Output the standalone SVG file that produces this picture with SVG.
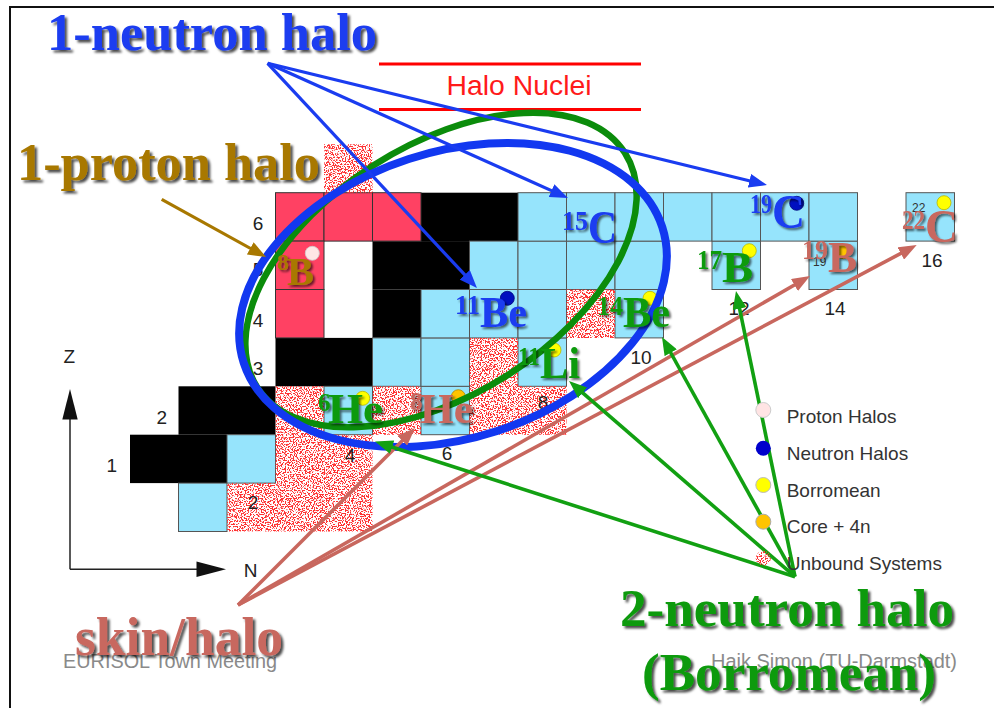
<svg xmlns="http://www.w3.org/2000/svg" width="994" height="708" viewBox="0 0 994 708">
<defs>
<style>
.lb{fill:#96E4FC;stroke:#555;stroke-width:1}
.rd{fill:#FF4163;stroke:#333;stroke-width:1}
.bk{fill:#000}
.num{font-family:"Liberation Sans",Arial,sans-serif;font-size:19px;fill:#222;text-anchor:middle}
.leg{font-family:"Liberation Sans",Arial,sans-serif;font-size:19px;fill:#333}
.big{font-family:"Liberation Serif","Times New Roman",serif;font-weight:bold;filter:url(#sh)}
.nuc{font-family:"Liberation Serif","Times New Roman",serif;font-weight:bold;filter:url(#sh2)}
.foot{font-family:"Liberation Sans",Arial,sans-serif;font-size:20px;fill:#8a8a8a}
.small{font-family:"Liberation Sans",Arial,sans-serif;font-size:12px;fill:#333}
.blue{fill:#1A3CF0}.green{fill:#0A9A0A}.salmon{fill:#C8675E}.gold{fill:#A87800}
</style>
<filter id="sh" x="-5%" y="-20%" width="115%" height="150%">
<feDropShadow dx="2.5" dy="2.5" stdDeviation="1.2" flood-color="#000" flood-opacity="0.7"/>
</filter>
<filter id="sh2" x="-10%" y="-20%" width="130%" height="150%">
<feDropShadow dx="2" dy="2" stdDeviation="1" flood-color="#000" flood-opacity="0.6"/>
</filter>
<filter id="speckle" filterUnits="userSpaceOnUse" x="0" y="0" width="994" height="708">
<feTurbulence type="fractalNoise" baseFrequency="0.75" numOctaves="2" seed="7" result="n"/>
<feColorMatrix in="n" type="matrix" values="0 0 0 0 1  0 0 0 0 0.03  0 0 0 0 0.03  14 0 0 0 -6.9" result="r"/>
<feComposite in="r" in2="SourceGraphic" operator="in"/>
</filter>
<marker id="ah-blue" viewBox="0 0 18 14" refX="6" refY="7" markerWidth="18" markerHeight="14" markerUnits="userSpaceOnUse" orient="auto"><path d="M0,0 L18,7 L0,14 z" fill="#1A3CF0"/></marker>
<marker id="ah-gold" viewBox="0 0 18 14" refX="6" refY="7" markerWidth="18" markerHeight="14" markerUnits="userSpaceOnUse" orient="auto"><path d="M0,0 L18,7 L0,14 z" fill="#A87800"/></marker>
<marker id="ah-salmon" viewBox="0 0 18 14" refX="6" refY="7" markerWidth="18" markerHeight="14" markerUnits="userSpaceOnUse" orient="auto"><path d="M0,0 L18,7 L0,14 z" fill="#C8675E"/></marker>
<marker id="ah-green" viewBox="0 0 18 14" refX="6" refY="7" markerWidth="18" markerHeight="14" markerUnits="userSpaceOnUse" orient="auto"><path d="M0,0 L18,7 L0,14 z" fill="#12A012"/></marker>
</defs>

<rect x="0" y="0" width="994" height="708" fill="#fff"/>
<rect id="frame" x="10" y="7" width="1000" height="720" fill="none" stroke="#111" stroke-width="2"/>

<g id="title">
<line x1="379" y1="64" x2="641" y2="64" stroke="#FF0000" stroke-width="3"/>
<line x1="379" y1="109.5" x2="641" y2="109.5" stroke="#FF0000" stroke-width="3"/>
<text x="519" y="95" text-anchor="middle" font-family="Liberation Sans, Arial, sans-serif" font-size="27" fill="#FF1A1A" textLength="145" lengthAdjust="spacingAndGlyphs">Halo Nuclei</text>
</g>

<g id="axes" stroke="#222" stroke-width="1.5" fill="#111">
<line x1="70" y1="569.3" x2="70" y2="410"/>
<line x1="70" y1="569.3" x2="205" y2="569.3"/>
<path d="M70,389 L77.7,419.5 L62.3,419.5 z" stroke="none"/>
<path d="M226,569.3 L196.5,561.6 L196.5,577 z" stroke="none"/>
<text class="num" x="69.3" y="363" stroke="none" font-size="18">Z</text>
<text class="num" x="250.7" y="577" stroke="none" font-size="18">N</text>
</g>

<g id="chart">
<g id="stable">
<rect class="bk" x="130" y="434.7" width="97" height="48.4"/>
<rect class="bk" x="178.5" y="386.3" width="97" height="48.4"/>
<rect class="bk" x="275.5" y="337.9" width="97" height="48.4"/>
<rect class="bk" x="372.5" y="289.5" width="48.5" height="48.4"/>
<rect class="bk" x="372.5" y="241.1" width="97" height="48.4"/>
<rect class="bk" x="421" y="192.7" width="97" height="48.4"/>
</g>
<g id="proton-rich">
<rect class="rd" x="275.5" y="192.7" width="48.5" height="48.4"/>
<rect class="rd" x="324" y="192.7" width="48.5" height="48.4"/>
<rect class="rd" x="372.5" y="192.7" width="48.5" height="48.4"/>
<rect class="rd" x="275.5" y="241.1" width="48.5" height="48.4"/>
<rect class="rd" x="275.5" y="289.5" width="48.5" height="48.4"/>
</g>
<g id="neutron-rich">
<rect class="lb" x="178.5" y="483.1" width="48.5" height="48.4"/>
<rect class="lb" x="227" y="434.7" width="48.5" height="48.4"/>
<rect class="lb" x="324" y="386.3" width="48.5" height="48.4"/>
<rect class="lb" x="421" y="386.3" width="48.5" height="48.4"/>
<rect class="lb" x="372.5" y="337.9" width="48.5" height="48.4"/>
<rect class="lb" x="421" y="337.9" width="48.5" height="48.4"/>
<rect class="lb" x="518" y="337.9" width="48.5" height="48.4"/>
<rect class="lb" x="421" y="289.5" width="48.5" height="48.4"/>
<rect class="lb" x="469.5" y="289.5" width="48.5" height="48.4"/>
<rect class="lb" x="518" y="289.5" width="48.5" height="48.4"/>
<rect class="lb" x="615" y="289.5" width="48.5" height="48.4"/>
<rect class="lb" x="469.5" y="241.1" width="48.5" height="48.4"/>
<rect class="lb" x="518" y="241.1" width="48.5" height="48.4"/>
<rect class="lb" x="566.5" y="241.1" width="48.5" height="48.4"/>
<rect class="lb" x="615" y="241.1" width="48.5" height="48.4"/>
<rect class="lb" x="712" y="241.1" width="48.5" height="48.4"/>
<rect class="lb" x="809" y="241.1" width="48.5" height="48.4"/>
<rect class="lb" x="518" y="192.7" width="48.5" height="48.4"/>
<rect class="lb" x="566.5" y="192.7" width="48.5" height="48.4"/>
<rect class="lb" x="615" y="192.7" width="48.5" height="48.4"/>
<rect class="lb" x="663.5" y="192.7" width="48.5" height="48.4"/>
<rect class="lb" x="712" y="192.7" width="48.5" height="48.4"/>
<rect class="lb" x="760.5" y="192.7" width="48.5" height="48.4"/>
<rect class="lb" x="809" y="192.7" width="48.5" height="48.4"/>
<rect class="lb" x="906" y="192.7" width="48.5" height="48.4"/>
</g>
<g id="unbound">
<path fill="#fff" filter="url(#speckle)" d="M324,144.3h48.5v48.4h-48.5z M566.5,289.5h48.5v48.4h-48.5z M469.5,337.9h48.5v48.4h-48.5z M275.5,386.3h48.5v48.4h-48.5z M372.5,386.3h48.5v48.4h-48.5z M469.5,386.3h97v48.4h-97z M275.5,434.7h97v48.4h-97z M227,483.1h145.5v48.4h-145.5z"/>
</g>
<g id="axis-numbers">
<text class="num" x="258" y="230">6</text>
<text class="num" x="258" y="276">5</text>
<text class="num" x="258" y="327">4</text>
<text class="num" x="258" y="375">3</text>
<text class="num" x="161.7" y="424">2</text>
<text class="num" x="111.7" y="472">1</text>
<text class="num" x="253" y="509">2</text>
<text class="num" x="350" y="462">4</text>
<text class="num" x="447" y="460">6</text>
<text class="num" x="543" y="409">8</text>
<text class="num" x="641" y="363.5">10</text>
<text class="num" x="739" y="315">12</text>
<text class="num" x="835" y="315">14</text>
<text class="num" x="932" y="267">16</text>
<text class="small" x="912" y="212">22</text>
<text class="small" x="813" y="266">19</text>
</g>
<g id="dots" stroke-width="0.8">
<circle cx="312.3" cy="253.3" r="7" fill="#FFE6E6" stroke="#ccc"/>
<circle cx="507.3" cy="298.3" r="7" fill="#0010C0" stroke="#00087a"/>
<circle cx="796.7" cy="203.3" r="7" fill="#0010C0" stroke="#00087a"/>
<circle cx="650" cy="298.3" r="7" fill="#FFFF00" stroke="#b8b800"/>
<circle cx="554" cy="350" r="7" fill="#FFFF00" stroke="#b8b800"/>
<circle cx="362.7" cy="398.3" r="7" fill="#FFFF00" stroke="#b8b800"/>
<circle cx="458.3" cy="396.7" r="7" fill="#FFC400" stroke="#b08800"/>
<circle cx="749.3" cy="250.7" r="7" fill="#FFFF00" stroke="#b8b800"/>
<circle cx="843.3" cy="251.7" r="7" fill="#FFC400" stroke="#b08800"/>
<circle cx="944" cy="202.7" r="7" fill="#FFFF00" stroke="#b8b800"/>
</g>
</g>

<g id="halo-ellipses" fill="none">
<ellipse id="two-neutron-ellipse" cx="441" cy="270" rx="218" ry="124.5" transform="rotate(-32.5 441 270)" stroke="#0B8C0B" stroke-width="6.5"/>
<ellipse id="one-neutron-ellipse" cx="453" cy="295" rx="220" ry="143" transform="rotate(-18 453 295)" stroke="#1238F0" stroke-width="8"/>
</g>

<g id="connectors" fill="none" stroke-width="3.2">
<g stroke="#1A3CF0" marker-end="url(#ah-blue)">
<line x1="267.6" y1="63.3" x2="557" y2="193.1"/>
<line x1="267.6" y1="63.3" x2="468.8" y2="279.2"/>
<line x1="267.6" y1="63.3" x2="755.3" y2="182.2"/>
</g>
<line stroke="#A87800" marker-end="url(#ah-gold)" x1="161.7" y1="199.3" x2="255.5" y2="251.2"/>
<g stroke="#C8675E" marker-end="url(#ah-salmon)" stroke-width="3.6">
<line x1="238" y1="605" x2="406.5" y2="436.5"/>
<line x1="238" y1="605" x2="799.6" y2="282"/>
<line x1="238" y1="605" x2="906.1" y2="250.6"/>
</g>
<g stroke="#12A012" marker-end="url(#ah-green)" stroke-width="3.6">
<line x1="795" y1="576.7" x2="386.4" y2="445.2"/>
<line x1="795" y1="576.7" x2="578.1" y2="388.9"/>
<line x1="795" y1="576.7" x2="667.8" y2="347.5"/>
<line x1="795" y1="576.7" x2="738.4" y2="302.8"/>
</g>
</g>

<g id="n-8B" class="gold">
<text class="nuc" x="277" y="270" font-size="24">8</text>
<text class="nuc" x="287" y="285" font-size="40" textLength="27" lengthAdjust="spacingAndGlyphs">B</text>
</g>
<g id="n-11Be" class="blue">
<text class="nuc" x="455" y="314" font-size="28" textLength="25" lengthAdjust="spacingAndGlyphs">11</text>
<text class="nuc" x="480" y="327" font-size="45" textLength="47" lengthAdjust="spacingAndGlyphs">Be</text>
</g>
<g id="n-15C" class="blue">
<text class="nuc" x="562" y="230" font-size="28" textLength="26" lengthAdjust="spacingAndGlyphs">15</text>
<text class="nuc" x="588" y="243" font-size="47" textLength="29" lengthAdjust="spacingAndGlyphs">C</text>
</g>
<g id="n-19C" class="blue">
<text class="nuc" x="750" y="213" font-size="27" textLength="22" lengthAdjust="spacingAndGlyphs">19</text>
<text class="nuc" x="772" y="228" font-size="48" textLength="33" lengthAdjust="spacingAndGlyphs">C</text>
</g>
<g id="n-6He" class="green">
<text class="nuc" x="318" y="411" font-size="25">6</text>
<text class="nuc" x="328" y="423" font-size="42" textLength="55" lengthAdjust="spacingAndGlyphs">He</text>
</g>
<g id="n-11Li" class="green">
<text class="nuc" x="518" y="365" font-size="26" textLength="22" lengthAdjust="spacingAndGlyphs">11</text>
<text class="nuc" x="540" y="378" font-size="45" textLength="40" lengthAdjust="spacingAndGlyphs">Li</text>
</g>
<g id="n-14Be" class="green">
<text class="nuc" x="597" y="315" font-size="28" textLength="26" lengthAdjust="spacingAndGlyphs">14</text>
<text class="nuc" x="623" y="327" font-size="45" textLength="47" lengthAdjust="spacingAndGlyphs">Be</text>
</g>
<g id="n-17B" class="green">
<text class="nuc" x="697" y="269" font-size="28" textLength="25" lengthAdjust="spacingAndGlyphs">17</text>
<text class="nuc" x="722" y="282" font-size="45" textLength="31" lengthAdjust="spacingAndGlyphs">B</text>
</g>
<g id="n-8He" class="salmon">
<text class="nuc" x="410" y="410" font-size="25">8</text>
<text class="nuc" x="420" y="423" font-size="42" textLength="53" lengthAdjust="spacingAndGlyphs">He</text>
</g>
<g id="n-19B" class="salmon">
<text class="nuc" x="802" y="259" font-size="28" textLength="26" lengthAdjust="spacingAndGlyphs">19</text>
<text class="nuc" x="828" y="272" font-size="45" textLength="29" lengthAdjust="spacingAndGlyphs">B</text>
</g>
<g id="n-22C" class="salmon">
<text class="nuc" x="902" y="229" font-size="28" textLength="23" lengthAdjust="spacingAndGlyphs">22</text>
<text class="nuc" x="925" y="242" font-size="47" textLength="33" lengthAdjust="spacingAndGlyphs">C</text>
</g>

<g id="legend">
<circle cx="763.3" cy="410" r="7.5" fill="#FFE4E4" stroke="#ccc"/>
<circle cx="763.3" cy="448.3" r="7.5" fill="#0000CC"/>
<circle cx="763.3" cy="485" r="7.5" fill="#FFFF00" stroke="#bbb"/>
<circle cx="763.3" cy="521.7" r="7.5" fill="#FFC400" stroke="#aaa"/>
<circle cx="763.3" cy="558.3" r="7.5" fill="#fff" filter="url(#speckle)"/>
<text class="leg" x="786.7" y="423.3">Proton Halos</text>
<text class="leg" x="786.7" y="460">Neutron Halos</text>
<text class="leg" x="786.7" y="496.7">Borromean</text>
<text class="leg" x="786.7" y="533.3">Core + 4n</text>
<text class="leg" x="786.7" y="570">Unbound Systems</text>
</g>

<g id="footer">
<text class="foot" x="63" y="668" textLength="214" lengthAdjust="spacingAndGlyphs">EURISOL Town Meeting</text>
<text class="foot" x="711" y="668" textLength="246" lengthAdjust="spacingAndGlyphs">Haik Simon (TU-Darmstadt)</text>
</g>

<g id="labels">
<text id="lbl-1n" class="big blue" x="47" y="50" font-size="52" textLength="330" lengthAdjust="spacingAndGlyphs">1-neutron halo</text>
<text id="lbl-1p" class="big gold" x="17" y="180" font-size="52" textLength="303" lengthAdjust="spacingAndGlyphs">1-proton halo</text>
<text id="lbl-skin" class="big salmon" x="75" y="655" font-size="54" textLength="208" lengthAdjust="spacingAndGlyphs">skin/halo</text>
<text id="lbl-2n" class="big green" x="620" y="626" font-size="52" textLength="334" lengthAdjust="spacingAndGlyphs">2-neutron halo</text>
<text id="lbl-bor" class="big green" x="642" y="690" font-size="53" textLength="294" lengthAdjust="spacingAndGlyphs">(Borromean)</text>
</g>
</svg>
